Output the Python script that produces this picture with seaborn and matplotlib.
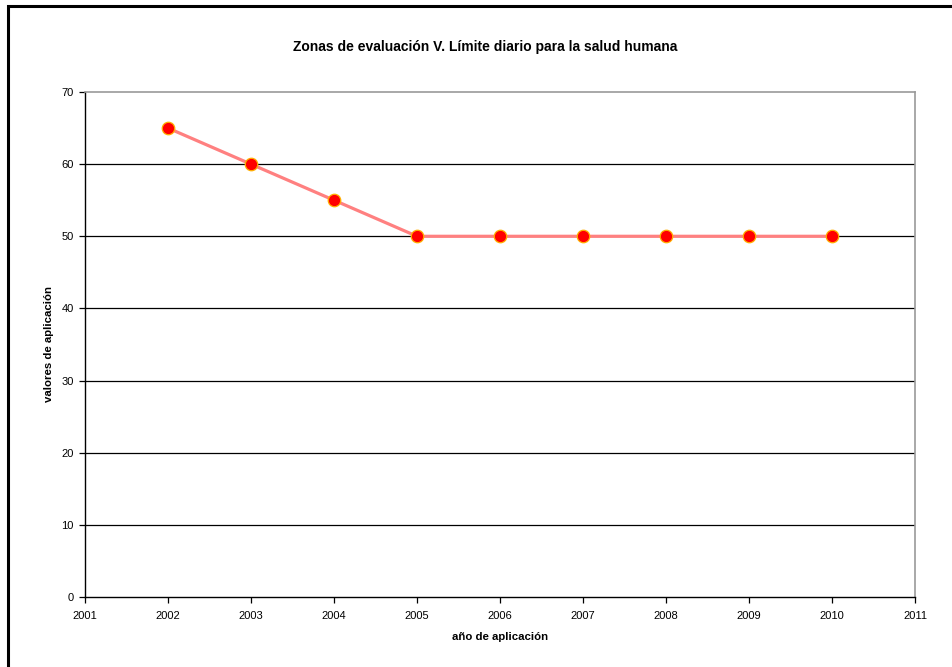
import matplotlib
matplotlib.use("Agg")
import matplotlib.pyplot as plt
from matplotlib.patches import Rectangle
import seaborn as sns
import pandas as pd

years = [2002, 2003, 2004, 2005, 2006, 2007, 2008, 2009, 2010]
valores = [65, 60, 55, 50, 50, 50, 50, 50, 50]
x_ticks = list(range(2001, 2012))
y_ticks = list(range(0, 71, 10))

sns.set_theme(style="white")
plt.rcParams["font.family"] = ["Liberation Sans", "DejaVu Sans"]
plt.rcParams["text.color"] = "black"
plt.rcParams["axes.labelcolor"] = "black"

df = pd.DataFrame({"anio": years, "valor": valores})

fig = plt.figure(figsize=(9.52, 6.67), dpi=100)
ax = fig.add_axes([85 / 952, 1 - 597 / 667, (915 - 85) / 952, (597 - 92) / 667])

sns.lineplot(data=df, x="anio", y="valor", ax=ax, color="#ff8080", linewidth=2.3,
             marker="o", markersize=9, markerfacecolor="#ff0000",
             markeredgecolor="#ffb000", markeredgewidth=0.9, zorder=3)

ax.set_xlim(2001, 2011)
ax.set_ylim(0, 70)
ax.set_xticks(x_ticks)
ax.set_xticklabels([str(t) for t in x_ticks])
ax.set_yticks(y_ticks)

for y in y_ticks[1:-1]:
    ax.axhline(y, color="black", linewidth=0.9, zorder=1)

for side in ["left", "bottom"]:
    ax.spines[side].set_color("black")
    ax.spines[side].set_linewidth(1.0)
for side in ["top", "right"]:
    ax.spines[side].set_color("#999999")
    ax.spines[side].set_linewidth(1.2)

ax.tick_params(axis="both", which="both", direction="out", length=4, width=0.9,
               color="black", labelsize=8, labelcolor="black", pad=4)
ax.tick_params(axis="x", pad=6)
ax.xaxis.set_ticks_position("bottom")
ax.yaxis.set_ticks_position("left")

ax.set_xlabel("año de aplicación", fontsize=8.2, fontweight="bold", labelpad=8)
ax.set_ylabel("valores de aplicación", fontsize=8.2, fontweight="bold", labelpad=5.5)

fig.text(485 / 952, 1 - 47 / 667, "Zonas de evaluación V. Límite diario para la salud humana",
         ha="center", va="center", fontsize=10, fontweight="bold", color="black")

# Chart-area frame, open towards the bottom-right corner
fig.patches.append(Rectangle((7.5 / 952, -0.2), 1.5, 1.2 - 5.5 / 667,
                             transform=fig.transFigure, fill=False,
                             edgecolor="black", linewidth=2.2))

fig.savefig("out.png", dpi=100)
